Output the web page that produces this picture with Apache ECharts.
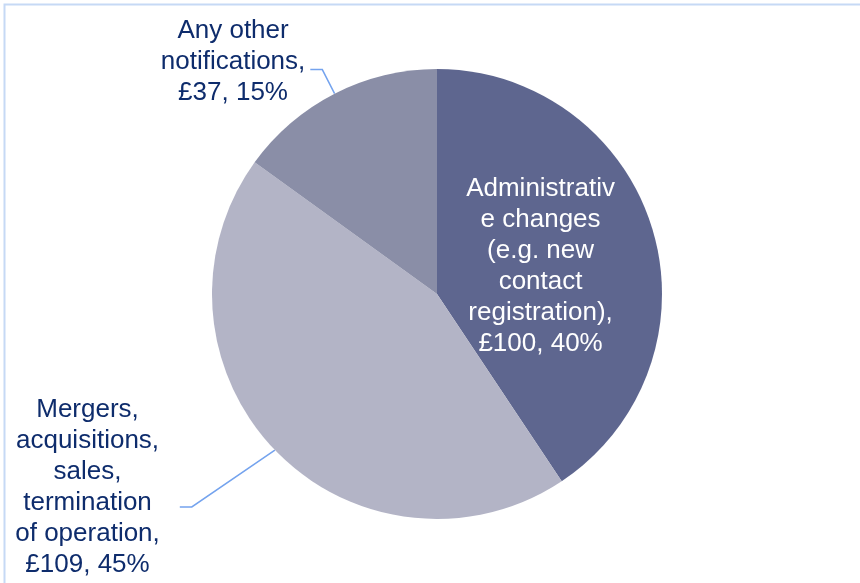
<!DOCTYPE html>
<html>
<head>
<meta charset="utf-8">
<script src="https://cdn.jsdelivr.net/npm/echarts@6/dist/echarts.min.js"></script>
<style>
  html, body { margin: 0; padding: 0; background: #ffffff; }
  #chart { width: 860px; height: 583px; }
</style>
</head>
<body>
<div id="chart"></div>
<script>
// Notification fee categories (line breaks follow the label wrapping)
const categories = [
  'Administrativ\ne changes\n(e.g. new\ncontact\nregistration)',
  'Mergers,\nacquisitions,\nsales,\ntermination\nof operation',
  'Any other\nnotifications'
];
// Fee amounts in £
const values = [100, 109, 37];
// Share of total as printed on the labels (%)
const shares = [40, 45, 15];

const palette = ['#5e668f', '#b3b4c6', '#8a8ea7'];
const ink = '#0e2c6c';
const guideColor = '#74a3ee';
const font = '"Liberation Sans", Arial, sans-serif';

function labelText(i) {
  return (categories[i] + ',\n£' + values[i] + ', ' + shares[i] + '%')
    .split('\n')
    .map(function (s) { return '{t|' + s + '}'; })
    .join('\n');
}

function richStyle(color) {
  return { t: { color: color, fontSize: 26, lineHeight: 31, fontFamily: font, align: 'center' } };
}

const data = values.map(function (v, i) {
  return { name: categories[i], value: v, itemStyle: { color: palette[i] } };
});

// Administrative changes: label sits inside the slice
data[0].label = {
  position: 'inside', formatter: labelText(0), rich: richStyle('#ffffff'),
  padding: [12, 14, 0, 0]
};
data[0].labelLine = { show: false };

// Mergers etc.: outside label, lower left
data[1].label = {
  position: 'outside', formatter: labelText(1), rich: richStyle(ink),
  distanceToLabelLine: 20, padding: [0, 0, 40, 0]
};
data[1].labelLine = { show: true, length: 82, length2: 36 };

// Any other notifications: outside label, upper left
data[2].label = {
  position: 'outside', formatter: labelText(2), rich: richStyle(ink),
  distanceToLabelLine: 5, padding: [0, 0, 16, 0]
};
data[2].labelLine = { show: true, length: 27, length2: 12 };

const chart = echarts.init(document.getElementById('chart'), null, { renderer: 'canvas' });
chart.setOption({
  animation: false,
  backgroundColor: '#ffffff',
  graphic: [{
    type: 'polyline',
    shape: { points: [[4.5, 583], [4.5, 4.5], [860, 4.5]] },
    style: { stroke: '#c6d9f5', lineWidth: 2, fill: null },
    silent: true
  }],
  series: [{
    type: 'pie',
    center: [437, 294],
    radius: 225,
    startAngle: 90,
    clockwise: true,
    avoidLabelOverlap: false,
    silent: true,
    label: { show: true, fontFamily: font, fontSize: 26 },
    labelLine: { smooth: false, lineStyle: { color: guideColor, width: 1.5 } },
    // shorten the horizontal run of the lower-left guide so it bends near the label
    labelLayout: function (params) {
      const p = params.labelLinePoints;
      if (params.dataIndex === 1 && p && p.length === 3) {
        return { labelLinePoints: [p[0], [p[2][0] + 12, p[2][1]], p[2]] };
      }
      return {};
    },
    itemStyle: { borderWidth: 0 },
    emphasis: { disabled: true },
    data: data
  }]
});
</script>
</body>
</html>
